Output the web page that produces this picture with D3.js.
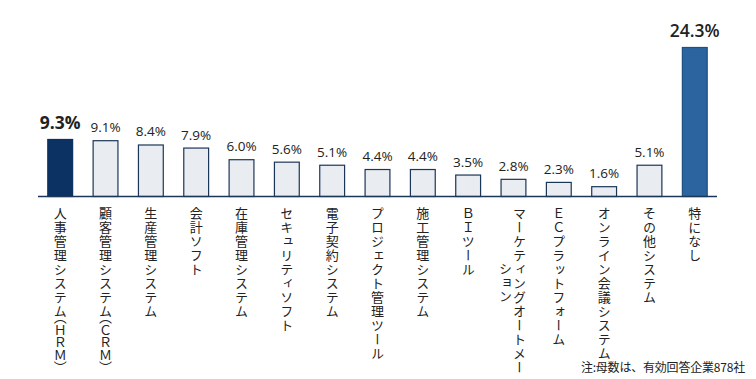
<!DOCTYPE html>
<html><head><meta charset="utf-8">
<script src="https://cdn.jsdelivr.net/npm/d3@7"></script>
<style>
html,body{margin:0;padding:0;background:#fff;}
svg{display:block;}
.cat{font-family:"Noto Sans CJK JP","Noto Sans",sans-serif;font-size:13px;fill:#222;writing-mode:vertical-rl;}
.val{font-family:"Open Sans","Noto Sans",sans-serif;font-size:13.5px;fill:#222;}
.note{font-family:"Noto Sans CJK JP",sans-serif;font-size:12px;fill:#222;}
</style></head>
<body>
<svg id="c" width="756" height="379"></svg>
<script>
const categories = ["人事管理システム（ＨＲＭ）","顧客管理システム（ＣＲＭ）","生産管理システム","会計ソフト","在庫管理システム","セキュリティソフト","電子契約システム","プロジェクト管理ツール","施工管理システム","ＢＩツール","マーケティングオートメーション","ＥＣプラットフォーム","オンライン会議システム","その他システム","特になし"];
const values = [9.3,9.1,8.4,7.9,6.0,5.6,5.1,4.4,4.4,3.5,2.8,2.3,1.6,5.1,24.3];
const highlight = {0:"hrm", 14:"none"};
const wrapAt = {"マーケティングオートメーション":12};
const noteText = "注:母数は、有効回答企業878社";

const svg = d3.select("#c");
const baseY = 196.5;
const x = d3.scaleBand().domain(categories).range([38,717]).paddingInner(0.43).paddingOuter(0.205);
const y = d3.scaleLinear().domain([0,25]).range([baseY, baseY-153.3]);

const fillFor = i => highlight[i]==="hrm" ? "#0b3262" : highlight[i]==="none" ? "#2c64a0" : "#e9ecf1";
const strokeFor = i => highlight[i]==="hrm" ? "#0b3262" : highlight[i]==="none" ? "#1f4f85" : "#1c3658";

svg.selectAll("rect.bar").data(values).enter().append("rect")
  .attr("class","bar")
  .attr("x",(d,i)=>x(categories[i])+0.5)
  .attr("y",d=>y(d))
  .attr("width",x.bandwidth()-1)
  .attr("height",d=>baseY-y(d))
  .attr("fill",(d,i)=>fillFor(i))
  .attr("stroke",(d,i)=>strokeFor(i))
  .attr("stroke-width",1.2);

svg.append("line").attr("x1",38).attr("x2",717).attr("y1",baseY).attr("y2",baseY)
  .attr("stroke","#1c3658").attr("stroke-width",1.4);

svg.selectAll("text.val").data(values).enter().append("text")
  .attr("class","val")
  .attr("x",(d,i)=>x(categories[i])+x.bandwidth()/2)
  .attr("y",(d,i)=>y(d)-(highlight[i]?10:8.5))
  .attr("text-anchor","middle")
  .style("font-size",(d,i)=>highlight[i]?"17.5px":null)
  .style("font-weight",(d,i)=>highlight[i]==="hrm"?700:(highlight[i]?600:400))
  .text(d=>d.toFixed(1)+"%");

function vtext(str, cx, top){
  const t = svg.append("text").attr("class","cat").attr("x",cx).attr("y",top);
  const chars = Array.from(str);
  let inParen = false;
  chars.forEach((ch,k)=>{
    if(ch==="（") inParen = true;
    let ls = 1;
    if(chars[k+1]==="（") ls = -7;
    else if(inParen) ls = -0.5;
    if(ch==="）") inParen = false;
    t.append("tspan").style("letter-spacing",ls+"px").text(ch);
  });
}

categories.forEach((c,i)=>{
  const cx = x(c)+x.bandwidth()/2;
  const w = wrapAt[c];
  if(w){
    vtext(c.slice(0,w), cx+6, 207);
    vtext(c.slice(w), cx-8, 262);
  } else {
    vtext(c, cx, 207);
  }
});

svg.append("text").attr("class","note").attr("x",745).attr("y",372).attr("text-anchor","end")
  .style("letter-spacing","-0.2px").text(noteText);
</script>
</body></html>
